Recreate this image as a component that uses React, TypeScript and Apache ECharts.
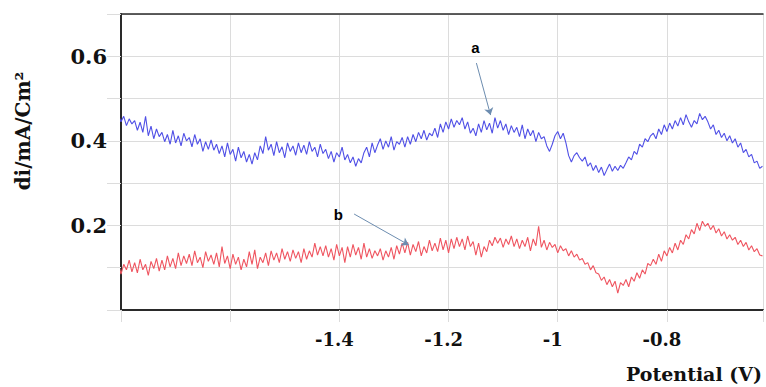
import React, { useEffect, useRef } from "react";
import * as echarts from "echarts";

// Potential sampling grid (V)
const POTENTIAL_START = -1.825;
const POTENTIAL_STEP = 0.005;

// Curve a (blue), di in mA/cm2
const CURVE_A: number[] = [
  0.472, 0.455, 0.468, 0.448, 0.462, 0.445, 0.458, 0.436, 0.452, 0.440,
  0.448, 0.425, 0.444, 0.420, 0.458, 0.412, 0.435, 0.405, 0.428, 0.410,
  0.420, 0.398, 0.415, 0.392, 0.425, 0.395, 0.412, 0.388, 0.418, 0.400,
  0.408, 0.386, 0.415, 0.392, 0.405, 0.375, 0.398, 0.380, 0.402, 0.378,
  0.392, 0.370, 0.388, 0.362, 0.395, 0.368, 0.380, 0.352, 0.385, 0.360,
  0.375, 0.350, 0.368, 0.345, 0.372, 0.355, 0.388, 0.370, 0.410, 0.378,
  0.392, 0.365, 0.398, 0.372, 0.386, 0.360, 0.395, 0.375, 0.388, 0.366,
  0.395, 0.372, 0.390, 0.368, 0.398, 0.375, 0.385, 0.362, 0.392, 0.370,
  0.380, 0.358, 0.375, 0.350, 0.372, 0.362, 0.385, 0.355, 0.368, 0.348,
  0.362, 0.340, 0.358, 0.348, 0.372, 0.385, 0.362, 0.395, 0.372, 0.390,
  0.405, 0.380, 0.400, 0.385, 0.410, 0.378, 0.398, 0.392, 0.408, 0.385,
  0.410, 0.392, 0.415, 0.398, 0.420, 0.405, 0.425, 0.402, 0.418, 0.412,
  0.430, 0.408, 0.440, 0.420, 0.445, 0.428, 0.452, 0.432, 0.448, 0.438,
  0.455, 0.428, 0.445, 0.418, 0.430, 0.412, 0.440, 0.420, 0.448, 0.426,
  0.442, 0.418, 0.455, 0.430, 0.448, 0.425, 0.440, 0.415, 0.436, 0.420,
  0.432, 0.410, 0.438, 0.405, 0.428, 0.412, 0.425, 0.398, 0.420, 0.405,
  0.410, 0.388, 0.375, 0.392, 0.412, 0.422, 0.405, 0.418, 0.395, 0.365,
  0.350, 0.365, 0.372, 0.360, 0.352, 0.362, 0.340, 0.348, 0.330, 0.342,
  0.325, 0.338, 0.318, 0.332, 0.345, 0.328, 0.340, 0.330, 0.342, 0.335,
  0.348, 0.362, 0.355, 0.375, 0.368, 0.392, 0.385, 0.405, 0.398, 0.412,
  0.418, 0.405, 0.428, 0.415, 0.438, 0.422, 0.442, 0.428, 0.448, 0.435,
  0.455, 0.438, 0.462, 0.445, 0.432, 0.448, 0.440, 0.465, 0.450, 0.458,
  0.445, 0.428, 0.438, 0.415, 0.425, 0.408, 0.418, 0.400, 0.412, 0.395,
  0.405, 0.385, 0.395, 0.372, 0.380, 0.362, 0.368, 0.348, 0.352, 0.335,
  0.340,
];

// Curve b (red), di in mA/cm2
const CURVE_B: number[] = [
  0.118, 0.098, 0.125, 0.092, 0.112, 0.085, 0.108, 0.095, 0.118, 0.090,
  0.112, 0.088, 0.120, 0.095, 0.108, 0.082, 0.115, 0.098, 0.122, 0.092,
  0.118, 0.095, 0.128, 0.102, 0.122, 0.098, 0.135, 0.105, 0.128, 0.110,
  0.132, 0.105, 0.140, 0.112, 0.125, 0.100, 0.138, 0.115, 0.130, 0.108,
  0.135, 0.102, 0.150, 0.110, 0.128, 0.098, 0.132, 0.108, 0.125, 0.095,
  0.120, 0.102, 0.138, 0.108, 0.142, 0.098, 0.125, 0.112, 0.135, 0.105,
  0.140, 0.118, 0.135, 0.112, 0.145, 0.120, 0.138, 0.115, 0.142, 0.122,
  0.138, 0.112, 0.145, 0.120, 0.140, 0.125, 0.158, 0.130, 0.150, 0.128,
  0.152, 0.125, 0.145, 0.118, 0.155, 0.128, 0.148, 0.112, 0.150, 0.125,
  0.155, 0.130, 0.148, 0.120, 0.158, 0.125, 0.145, 0.122, 0.140, 0.128,
  0.145, 0.118, 0.140, 0.125, 0.148, 0.120, 0.152, 0.132, 0.158, 0.135,
  0.160, 0.130, 0.155, 0.138, 0.162, 0.128, 0.150, 0.135, 0.165, 0.140,
  0.158, 0.138, 0.170, 0.142, 0.165, 0.135, 0.168, 0.145, 0.172, 0.150,
  0.168, 0.142, 0.175, 0.150, 0.162, 0.130, 0.158, 0.125, 0.150, 0.138,
  0.165, 0.152, 0.172, 0.158, 0.170, 0.148, 0.168, 0.155, 0.175, 0.150,
  0.168, 0.145, 0.165, 0.150, 0.172, 0.140, 0.168, 0.152, 0.198, 0.148,
  0.165, 0.142, 0.160, 0.148, 0.155, 0.135, 0.152, 0.140, 0.145, 0.128,
  0.140, 0.125, 0.132, 0.118, 0.122, 0.108, 0.112, 0.095, 0.105, 0.088,
  0.085, 0.070, 0.078, 0.060, 0.072, 0.055, 0.068, 0.040, 0.065, 0.058,
  0.072, 0.055, 0.078, 0.068, 0.088, 0.075, 0.095, 0.085, 0.110, 0.105,
  0.120, 0.108, 0.132, 0.115, 0.140, 0.128, 0.148, 0.135, 0.158, 0.142,
  0.165, 0.155, 0.178, 0.168, 0.190, 0.180, 0.205, 0.188, 0.210, 0.198,
  0.205, 0.190, 0.200, 0.182, 0.192, 0.175, 0.185, 0.168, 0.178, 0.165,
  0.172, 0.155, 0.165, 0.150, 0.160, 0.142, 0.152, 0.138, 0.145, 0.130,
  0.128,
];

// Tick labels shown
const X_TICK_LABELS = ["-1.4", "-1.2", "-1", "-0.8"];
const Y_TICK_LABELS = ["0.2", "0.4", "0.6"];

// Visible potential window (V) and current window
const X_MIN = -1.8;
const X_MAX = -0.624;
const Y_MIN = 0;
const Y_MAX = 0.7;

// Annotations: label position and arrow (start -> end) in data coords
const ANNOT_A = { label: "a", at: [-1.151, 0.62], from: [-1.149, 0.584], to: [-1.123, 0.461] };
const ANNOT_B = { label: "b", at: [-1.402, 0.225], from: [-1.373, 0.227], to: [-1.273, 0.154] };

const toPairs = (arr: number[]) =>
  arr.map((v, i) => [+(POTENTIAL_START + i * POTENTIAL_STEP).toFixed(3), v]);

const SERIF = '"DejaVu Serif", "Liberation Serif", serif';
const AXIS_COLOR = "#2a2a2a";
const GRID_COLOR = "#dcdcdc";

export default function App() {
  const ref = useRef<HTMLDivElement>(null);
  useEffect(() => {
    if (!ref.current) return;
    const chart = echarts.init(ref.current, null, { renderer: "svg" });
    const arrowStyle = { color: "#6d8db0", width: 1, type: "solid" as const };
    const markLabel = (a: typeof ANNOT_A) => ({
      coord: a.at,
      symbol: "rect",
      symbolSize: 1,
      itemStyle: { color: "transparent" },
      label: {
        show: true,
        position: "inside",
        formatter: a.label,
        color: "#000",
        fontWeight: "bold",
        fontSize: 15,
        fontFamily: '"Liberation Sans", Arial, sans-serif',
      },
    });
    chart.setOption({
      animation: false,
      backgroundColor: "#ffffff",
      grid: { left: 121, right: 0, top: 14, bottom: 77, containLabel: false },
      xAxis: [
        {
          type: "value",
          position: "bottom",
          min: X_MIN,
          max: X_MAX,
          interval: 0.2,
          axisLine: { show: true, onZero: false, lineStyle: { color: AXIS_COLOR, width: 2 } },
          axisTick: { show: true, length: 12, lineStyle: { color: GRID_COLOR } },
          splitLine: { show: true, lineStyle: { color: GRID_COLOR, width: 1 } },
          axisLabel: {
            margin: 20,
            color: "#111",
            fontFamily: SERIF,
            fontWeight: "bold",
            fontSize: 18,
            padding: [0, 10, 0, 0],
            formatter: (v: number) => {
              const s = String(Math.round(v * 10) / 10);
              return X_TICK_LABELS.includes(s) ? s : "";
            },
          },
        },
        {
          type: "value",
          position: "top",
          min: X_MIN,
          max: X_MAX,
          axisLine: { show: true, onZero: false, lineStyle: { color: AXIS_COLOR, width: 1.5 } },
          axisTick: { show: false },
          axisLabel: { show: false },
          splitLine: { show: false },
        },
      ],
      yAxis: {
        type: "value",
        min: Y_MIN,
        max: Y_MAX,
        interval: 0.1,
        axisLine: { show: true, onZero: false, lineStyle: { color: AXIS_COLOR, width: 2 } },
        axisTick: { show: true, length: 14, lineStyle: { color: GRID_COLOR } },
        splitLine: { show: true, lineStyle: { color: GRID_COLOR, width: 1 } },
        axisLabel: {
          margin: 14,
          color: "#111",
          fontFamily: SERIF,
          fontWeight: "bold",
          fontSize: 21,
          formatter: (v: number) => {
            const s = (Math.round(v * 10) / 10).toFixed(1);
            return Y_TICK_LABELS.includes(s) ? s : "";
          },
        },
      },
      graphic: [
        {
          type: "text",
          x: 23,
          y: 131,
          rotation: Math.PI / 2,
          style: {
            text: "di/mA/Cm²",
            fill: "#111",
            fontFamily: SERIF,
            fontWeight: "bold",
            fontSize: 20,
            align: "center",
            verticalAlign: "middle",
          },
        },
        {
          type: "text",
          x: 762,
          y: 374,
          style: {
            text: "Potential (V)",
            fill: "#111",
            fontFamily: SERIF,
            fontWeight: "bold",
            fontSize: 19,
            align: "right",
            verticalAlign: "middle",
          },
        },
      ],
      series: [
        {
          name: "a",
          type: "line",
          xAxisIndex: 0,
          data: toPairs(CURVE_A),
          showSymbol: false,
          symbol: "none",
          clip: false,
          lineStyle: { color: "#5050e6", width: 1.1 },
          z: 3,
          markLine: {
            silent: true,
            symbol: ["none", "arrow"],
            symbolSize: 7,
            label: { show: false },
            lineStyle: arrowStyle,
            data: [[{ coord: ANNOT_A.from }, { coord: ANNOT_A.to }]],
          },
          markPoint: { silent: true, data: [markLabel(ANNOT_A)] },
        },
        {
          name: "b",
          type: "line",
          xAxisIndex: 0,
          data: toPairs(CURVE_B),
          showSymbol: false,
          symbol: "none",
          clip: false,
          lineStyle: { color: "#ef5560", width: 1.1 },
          z: 3,
          markLine: {
            silent: true,
            symbol: ["none", "arrow"],
            symbolSize: 7,
            label: { show: false },
            lineStyle: arrowStyle,
            data: [[{ coord: ANNOT_B.from }, { coord: ANNOT_B.to }]],
          },
          markPoint: { silent: true, data: [markLabel(ANNOT_B)] },
        },
      ],
    });
    return () => chart.dispose();
  }, []);
  return (
    <div
      ref={ref}
      style={{ position: "fixed", left: 0, top: 0, width: 766, height: 387, overflow: "hidden", background: "#fff" }}
    />
  );
}
